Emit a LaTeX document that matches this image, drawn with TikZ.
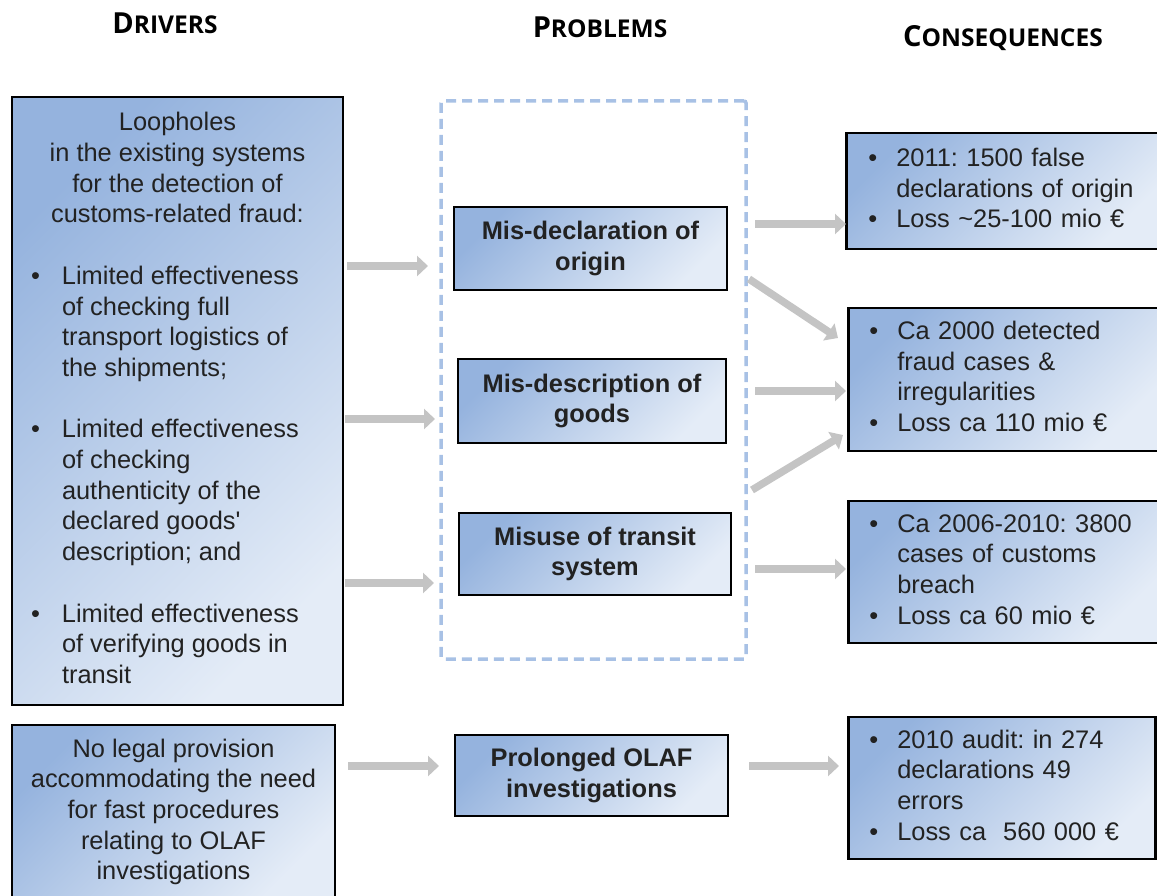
\documentclass[tikz,border=0pt]{standalone}
\usepackage{fontspec}
\setmainfont{Liberation Sans}
\newfontfamily\headfont{Open Sans}
\usetikzlibrary{arrows.meta}
\definecolor{boxdark}{HTML}{95B3DE}
\definecolor{boxlight}{HTML}{E4ECF7}
\definecolor{dashblue}{HTML}{A8C1E5}
\definecolor{arrowgray}{HTML}{C4C4C4}
\definecolor{txt}{HTML}{222222}
\frenchspacing
\newcommand\bodyfont{\fontsize{25.4}{30.7}\selectfont}
\newcommand\hdr[2]{{\fontsize{29}{29}\selectfont #1}{\fontsize{24.5}{24.5}\selectfont #2}}
\tikzset{
  gbox/.style={draw=black, line width=2.6pt, shading=axis, top color=boxdark,
    bottom color=boxlight, shading angle=45, text=txt, inner sep=0pt, font=\bodyfont},
  probbox/.style={gbox, align=center, font=\bodyfont\bfseries},
  flow/.style={draw=arrowgray, line width=7.5pt, -{Triangle[length=11pt,width=20pt]}},
  head/.style={font=\headfont\bfseries, text=black, inner sep=0pt},
  frame/.style={draw=dashblue, line width=3.5pt, dash pattern=on 10pt off 6pt, rounded corners=2pt, inner sep=0pt}
}
\begin{document}
\begin{tikzpicture}[x=1pt,y=-1pt]
\useasboundingbox (0,0) rectangle (1157,896);

% headers
\node[head] (hd) at (165,23) {\hdr{D}{RIVERS}};
\node[head] (hp) at (600,27) {\hdr{P}{ROBLEMS}};
\node[head] (hc) at (1003,38) {\hdr{C}{ONSEQUENCES}};

% problems frame
\node[frame, minimum width=305pt, minimum height=558pt] (frame) at (593.5,380) {};

% drivers
\node[gbox, minimum width=331pt, minimum height=608pt] (d1) at (177.5,401) {%
\begin{tabular}{@{}p{31pt}@{}p{262pt}@{}}
\multicolumn{2}{@{}c@{}}{Loopholes}\\
\multicolumn{2}{@{}c@{}}{in the existing systems}\\
\multicolumn{2}{@{}c@{}}{for the detection of}\\
\multicolumn{2}{@{}c@{}}{customs-related fraud:}\\
 & \\
• & Limited effectiveness\\
 & of checking full\\
 & transport logistics of\\
 & the shipments;\\
 & \\
• & Limited effectiveness\\
 & of checking\\
 & authenticity of the\\
 & declared goods\textquotesingle\\
 & description; and\\
 & \\
• & Limited effectiveness\\
 & of verifying goods in\\
 & transit
\end{tabular}};

\node[gbox, align=center, minimum width=323pt, minimum height=174pt] (d2) at (173.5,812) {%
No legal provision\\accommodating the need\\for fast procedures\\relating to OLAF\\investigations};

% problems
\node[probbox, minimum width=273pt, minimum height=83pt] (p1) at (590.5,248.5) {Mis-declaration of\\origin};
\node[probbox, minimum width=268pt, minimum height=84pt] (p2) at (592,401) {Mis-description of\\goods};
\node[probbox, minimum width=272pt, minimum height=82pt] (p3) at (595,554) {Misuse of transit\\system};
\node[probbox, minimum width=273pt, minimum height=81pt] (p4) at (591.5,775.5) {Prolonged OLAF\\investigations};

% consequences
\node[gbox, anchor=west, minimum width=314pt, minimum height=116pt, text width=314pt, align=left] (c1) at (845,191) {%
\hspace*{22pt}\begin{tabular}{@{}p{28pt}@{}l@{}}
• & 2011: 1500 false\\
 & declarations of origin\\
• & Loss \textasciitilde25-100 mio €
\end{tabular}};
\node[gbox, anchor=west, minimum width=312pt, minimum height=143pt, text width=312pt, align=left] (c2) at (847,379.5) {%
\hspace*{21pt}\begin{tabular}{@{}p{28pt}@{}l@{}}
• & Ca 2000 detected\\
 & fraud cases \&\\
 & irregularities\\
• & Loss ca 110 mio €
\end{tabular}};
\node[gbox, anchor=west, minimum width=312pt, minimum height=142pt, text width=312pt, align=left] (c3) at (847,572) {%
\hspace*{21pt}\begin{tabular}{@{}p{28pt}@{}l@{}}
• & Ca 2006-2010: 3800\\
 & cases of customs\\
 & breach\\
• & Loss ca 60 mio €
\end{tabular}};
\node[gbox, anchor=west, minimum width=307pt, minimum height=142pt, text width=307pt, align=left] (c4) at (847,788) {%
\hspace*{21pt}\begin{tabular}{@{}p{28pt}@{}l@{}}
• & 2010 audit: in 274\\
 & declarations 49\\
 & errors\\
• & Loss ca\ \ 560 000 €
\end{tabular}};

% arrow end points
\coordinate (a1s) at (347,266);  \coordinate (a1e) at (428,266);
\coordinate (a2s) at (345,419);  \coordinate (a2e) at (435,419);
\coordinate (a3s) at (345,583);  \coordinate (a3e) at (434,583);
\coordinate (a4s) at (755,224);  \coordinate (a4e) at (846,224);
\coordinate (a5s) at (749,279);  \coordinate (a5e) at (838,338);
\coordinate (a6s) at (755,391);  \coordinate (a6e) at (846,391);
\coordinate (a7s) at (752,490);  \coordinate (a7e) at (843,435);
\coordinate (a8s) at (755,569);  \coordinate (a8e) at (846,569);
\coordinate (a9s) at (348,766);  \coordinate (a9e) at (439,766);
\coordinate (a10s) at (749,766); \coordinate (a10e) at (839,766);

\draw[flow] (a1s) -- (a1e);
\draw[flow] (a2s) -- (a2e);
\draw[flow] (a3s) -- (a3e);
\draw[flow] (a4s) -- (a4e);
\draw[flow] (a5s) -- (a5e);
\draw[flow] (a6s) -- (a6e);
\draw[flow] (a7s) -- (a7e);
\draw[flow] (a8s) -- (a8e);
\draw[flow] (a9s) -- (a9e);
\draw[flow] (a10s) -- (a10e);
\end{tikzpicture}
\end{document}
